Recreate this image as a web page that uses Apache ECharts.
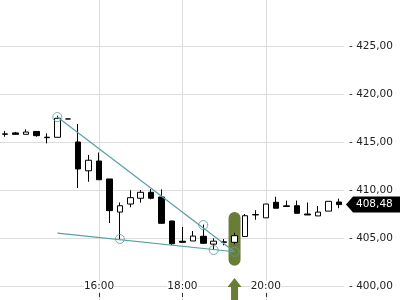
<!DOCTYPE html>
<html><head><meta charset="utf-8">
<script src="https://cdn.jsdelivr.net/npm/echarts@6/dist/echarts.min.js"></script>
<style>html,body{margin:0;padding:0;background:#fff}#c{width:400px;height:300px}</style>
</head><body><div id="c"></div>
<script>
const times = ['13:45','14:00','14:15','14:30','14:45','15:00','15:15','15:30','15:45','16:00','16:15','16:30','16:45','17:00','17:15','17:30','17:45','18:00','18:15','18:30','18:45','19:00','19:15','19:30','19:45','20:00','20:15','20:30','20:45','21:00','21:15','21:30','21:45'];
const opens  = [415.8,415.95,415.8,416.1,415.5,415.49,417.4,415.0,412.0,413.02,411.15,407.7,408.54,409.14,409.76,409.27,406.77,404.66,404.69,405.18,404.36,404.55,404.55,405.16,407.4,407.1,408.72,408.35,408.36,407.5,407.3,407.8,408.75];
const closes = [415.85,415.8,416.04,415.66,415.45,417.47,417.4,412.19,413.1,411.07,407.85,408.36,409.2,409.76,409.14,406.53,404.4,404.55,405.2,404.45,404.67,404.6,405.24,407.32,407.45,408.54,408.1,408.28,407.57,407.4,407.7,408.82,408.48];
const lows   = [415.55,415.75,415.8,415.55,414.86,415.49,417.4,410.2,410.86,411.07,406.56,404.9,408.2,408.68,409.03,406.5,404.27,404.55,404.69,404.4,403.75,404.24,404.34,405.16,406.9,407.1,408.1,408.25,407.57,407.4,407.3,407.8,408.1];
const highs  = [416.15,416.05,416.32,416.1,415.9,417.74,417.4,416.88,413.65,413.9,411.15,408.7,409.97,410.0,410.1,410.07,406.8,406.15,405.73,406.4,404.97,404.9,405.55,407.5,407.9,408.54,409.3,408.9,408.9,408.7,408.33,408.82,409.1];
const xLabels = ['16:00','18:00','20:00'];
const circles = [[5,417.6],[11,404.9],[19,406.35],[20,403.75],[22,403.57]];
const upperLine = [[5,417.6],[22,403.57]];
const lowerLine = [[5,405.5],[22,403.57]];
const lastPrice = 408.48;
const signalIndex = 22;
const signalRange = [402.1, 407.7];

const teal = '#5a9fa3';
const olive = '#6a7d37';
const font = 'DejaVu Sans';
const chart = echarts.init(document.getElementById('c'));
const showX = (i, v) => xLabels.includes(v);
chart.setOption({
  animation: false,
  backgroundColor: '#fff',
  grid: {left: 0, right: 56, top: -2, bottom: -34, containLabel: false, outerBoundsMode: 'none'},
  xAxis: {
    type: 'category', data: times, boundaryGap: true, offset: -37,
    axisLine: {show: false},
    axisTick: {show: true, inside: true, length: 4, alignWithLabel: true, interval: showX, lineStyle: {color: '#333'}},
    axisLabel: {inside: true, margin: 5, interval: showX, color: '#222', fontSize: 10.5, fontFamily: font, backgroundColor: '#fff'},
    splitLine: {show: true, alignWithLabel: true, interval: showX, lineStyle: {color: '#dcdcdc'}}
  },
  yAxis: {
    type: 'value', position: 'right', min: 395, max: 430, interval: 5,
    axisLine: {show: false}, axisTick: {show: false},
    axisLabel: {margin: 5, color: '#222', fontSize: 10.5, fontFamily: font, backgroundColor: '#fff',
      formatter: v => (v < 400 || v > 425) ? '' : '- ' + v.toFixed(2).replace('.', ',')},
    splitLine: {lineStyle: {color: '#dcdcdc'}}
  },
  series: [
    {type: 'candlestick', barWidth: 6, z: 2,
     data: opens.map((o, i) => [o, closes[i], lows[i], highs[i]]),
     itemStyle: {color: '#fff', color0: '#000', borderColor: '#000', borderColor0: '#000', borderColorDoji: '#000', borderWidth: 1}},
    {type: 'line', data: upperLine, symbol: 'none', z: 3, silent: true, lineStyle: {color: teal, width: 1.2}},
    {type: 'line', data: lowerLine, symbol: 'none', z: 3, silent: true, lineStyle: {color: teal, width: 1.2}},
    {type: 'scatter', data: circles, symbol: 'circle', symbolSize: 9, z: 4, silent: true,
     itemStyle: {color: 'rgba(0,0,0,0)', borderColor: teal, borderWidth: 1}}
  ]
});
const cx = chart.convertToPixel({xAxisIndex: 0}, signalIndex);
const yTop = chart.convertToPixel({yAxisIndex: 0}, signalRange[1]);
const yBot = chart.convertToPixel({yAxisIndex: 0}, signalRange[0]);
const yLast = chart.convertToPixel({yAxisIndex: 0}, lastPrice);
const y400 = chart.convertToPixel({yAxisIndex: 0}, 400);
chart.setOption({
  graphic: [
    {type: 'rect', z: 1, shape: {x: cx - 6, y: yTop, width: 12, height: yBot - yTop, r: 6}, style: {fill: olive}},
    {type: 'polygon', z: 5, shape: {points: [[cx, y400 - 8], [cx + 7, y400 + 1], [cx + 3.5, y400 + 1], [cx + 3.5, 305], [cx - 3.5, 305], [cx - 3.5, y400 + 1], [cx - 7, y400 + 1]]}, style: {fill: olive}},
    {type: 'polygon', z: 5, shape: {points: [[346, yLast], [353, yLast - 8], [401, yLast - 8], [401, yLast + 8], [353, yLast + 8]]}, style: {fill: '#000'}},
    {type: 'text', z: 6, x: 356, y: yLast, style: {text: lastPrice.toFixed(2).replace('.', ','), fill: '#fff', font: '10.5px "DejaVu Sans"', verticalAlign: 'middle'}}
  ]
});
</script></body></html>
